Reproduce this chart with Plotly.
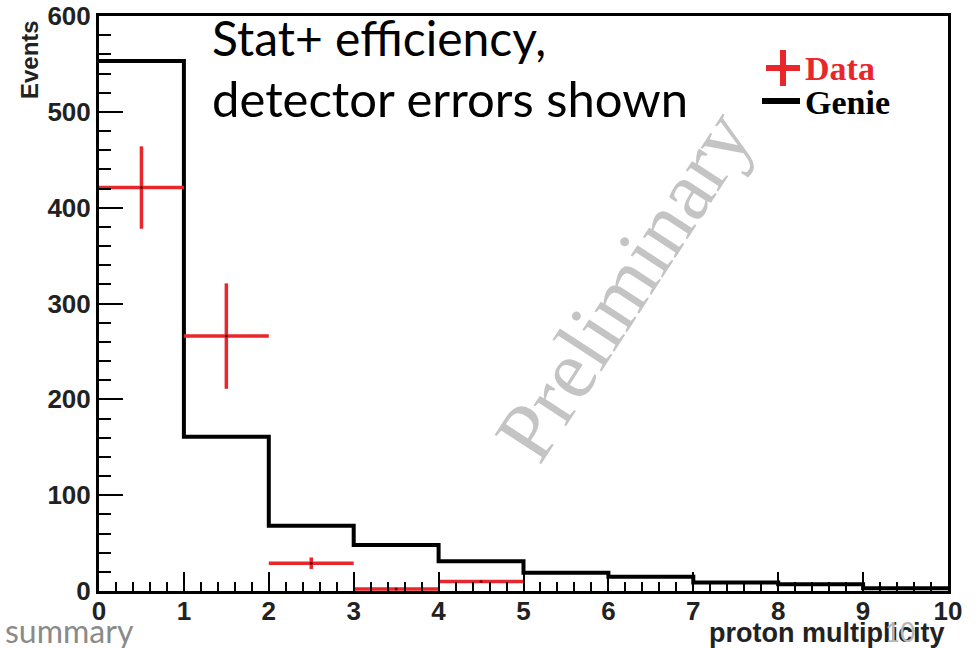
import plotly.graph_objects as go

# ---- data ----
bin_edges = [0, 1, 2, 3, 4, 5, 6, 7, 8, 9, 10]
genie_counts = [553, 161, 68, 48, 31, 19, 15, 9, 7, 3]
data_x = [0.5, 1.5, 2.5, 3.5, 4.5]
data_y = [421, 266, 29, 2, 10]
data_err = [43, 55, 6, 1, 1]
data_xerr = [0.5, 0.5, 0.5, 0.5, 0.5]
x_ticks = [0, 1, 2, 3, 4, 5, 6, 7, 8, 9, 10]
y_ticks = [0, 100, 200, 300, 400, 500, 600]

RED = "#e8262b"

fig = go.Figure()

# Genie histogram as step line
fig.add_trace(go.Scatter(
    x=bin_edges,
    y=genie_counts + [genie_counts[-1]],
    mode="lines",
    line=dict(color="black", width=4, shape="hv"),
    showlegend=False,
    hoverinfo="skip",
))

# Data points with errors
fig.add_trace(go.Scatter(
    x=data_x, y=data_y, mode="markers",
    marker=dict(color="#600", size=3),
    error_x=dict(type="data", array=data_xerr, color=RED, thickness=3.5, width=0),
    error_y=dict(type="data", array=data_err, color=RED, thickness=3.5, width=0),
    showlegend=False,
))

tick_font = dict(family="Liberation Sans, Arial, sans-serif", size=26, color="#222", weight="bold")

fig.update_layout(
    width=979, height=648,
    margin=dict(l=99, r=31, t=16, b=57, autoexpand=False),
    paper_bgcolor="white", plot_bgcolor="white",
    xaxis=dict(
        range=[0, 10], tickvals=x_ticks, ticktext=[str(v) for v in x_ticks],
        ticks="inside", ticklen=19, tickwidth=2, tickcolor="black",
        minor=dict(dtick=0.2, ticks="inside", ticklen=9, tickwidth=2, tickcolor="black"),
        showline=True, linecolor="black", linewidth=3, mirror=True,
        showgrid=False, zeroline=False, automargin=False,
        tickfont=tick_font, ticklabelstandoff=-5,
    ),
    yaxis=dict(
        range=[0, 600], tickvals=y_ticks, ticktext=[str(v) for v in y_ticks],
        ticks="inside", ticklen=24, tickwidth=2, tickcolor="black",
        minor=dict(dtick=20, ticks="inside", ticklen=12, tickwidth=2, tickcolor="black"),
        showline=True, linecolor="black", linewidth=3, mirror=True,
        showgrid=False, zeroline=False, automargin=False,
        tickfont=tick_font, ticklabelstandoff=0,
    ),
)

annotations = [
    # y-axis title
    dict(text="<b>Events</b>", x=29, y=60, xanchor="center", yanchor="middle", textangle=-90,
         font=dict(family="Liberation Sans, Arial, sans-serif", size=24, color="#222"),
         showarrow=False),
    # x-axis title
    dict(text="<b>proton multiplicity</b>", x=947, y=633, xanchor="right", yanchor="middle",
         font=dict(family="Liberation Sans, Arial, sans-serif", size=27, color="#222"),
         showarrow=False),
    dict(text="Stat+ efficiency,", x=210, y=38, xanchor="left", yanchor="middle",
         font=dict(family="Lato, sans-serif", size=48, color="black"), showarrow=False),
    dict(text="detector errors shown", x=210, y=98, xanchor="left", yanchor="middle",
         font=dict(family="Lato, sans-serif", size=49, color="black"), showarrow=False),
    dict(text="Preliminary", x=623, y=285, xanchor="center", yanchor="middle", textangle=-57,
         font=dict(family="Liberation Serif, serif", size=84, color="#c4c4c4"), showarrow=False),
    dict(text="<b>Data</b>", x=803, y=68, xanchor="left", yanchor="middle",
         font=dict(family="Liberation Serif, serif", size=34, color=RED), showarrow=False),
    dict(text="<b>Genie</b>", x=803, y=102, xanchor="left", yanchor="middle",
         font=dict(family="Liberation Serif, serif", size=34, color="black"), showarrow=False),
    dict(text="summary", x=3, y=630, xanchor="left", yanchor="middle",
         font=dict(family="Lato, sans-serif", size=32, color="#8a8a8a"), showarrow=False),
    dict(text="10", x=900, y=632, xanchor="center", yanchor="middle",
         font=dict(family="Lato, sans-serif", size=26, color="#b8b8b8"), showarrow=False),
]

# convert pixel positions to paper coords
W, H = 979, 648
L, R, T, B = 99, 31, 16, 57
pw, ph = W - L - R, H - T - B
for a in annotations:
    px, py = a["x"], a["y"]
    a["x"] = (px - L) / pw
    a["y"] = 1 - (py - T) / ph
    a["xref"] = "paper"
    a["yref"] = "paper"
fig.update_layout(annotations=annotations)

def px2paper(px, py):
    return (px - L) / pw, 1 - (py - T) / ph

shapes = []
# legend: red cross
x0, y0 = px2paper(766, 68); x1, _ = px2paper(800, 68)
shapes.append(dict(type="line", xref="paper", yref="paper", x0=x0, y0=y0, x1=x1, y1=y0,
                   line=dict(color=RED, width=6)))
xa, ya = px2paper(783, 50); _, yb = px2paper(783, 86)
shapes.append(dict(type="line", xref="paper", yref="paper", x0=xa, y0=ya, x1=xa, y1=yb,
                   line=dict(color=RED, width=6)))
# legend: black bar
x0, y0 = px2paper(762, 101); x1, _ = px2paper(800, 101)
shapes.append(dict(type="line", xref="paper", yref="paper", x0=x0, y0=y0, x1=x1, y1=y0,
                   line=dict(color="black", width=6)))
fig.update_layout(shapes=shapes)

fig.write_html("out.html")
